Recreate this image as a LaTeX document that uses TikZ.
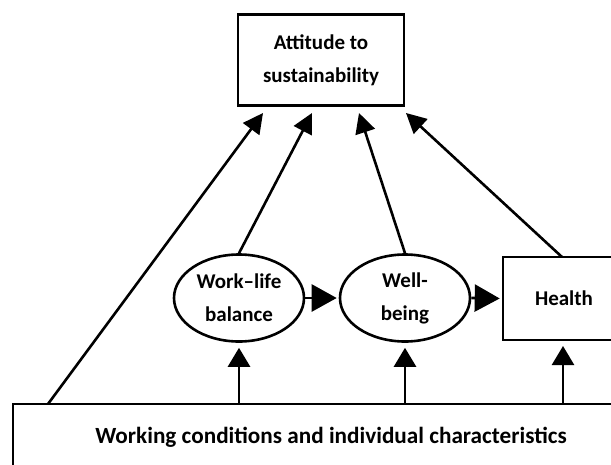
\documentclass[tikz,border=0pt]{standalone}
\usepackage{fontspec}
\setmainfont{Carlito}
\usetikzlibrary{arrows.meta,shapes.geometric,calc}
\begin{document}
\begin{tikzpicture}[x=1pt,y=-1pt,
  every node/.style={font=\fontsize{21}{33}\selectfont\bfseries, align=center, line width=2.6pt, inner sep=0pt},
  boxn/.style={draw, rectangle},
  elln/.style={draw, ellipse, minimum width=130pt, minimum height=87pt},
  conn/.style={line width=2.6pt},
  diag/.style={conn, -{Triangle[length=20pt,width=20pt]}},
  vup/.style={conn, -{Triangle[length=19pt,width=22pt]}, shorten >=5pt},
  hor/.style={conn, -{Triangle[length=25pt,width=27pt]}, shorten >=2pt}]
\useasboundingbox (0,0) rectangle (611,464);
\clip (0,0) rectangle (611,464);
\node[boxn, minimum width=166pt, minimum height=91pt] (top) at (321,60) {Attitude to\\sustainability};
\node[elln] (wlb) at (239,298) {Work–life\\balance};
\node[elln] (wb) at (405,298) {Well-\\being};
\node[boxn, minimum width=134pt, minimum height=83pt] (health) at (570,298.5) {\hspace*{-12pt}Health};
\node[boxn, minimum width=636pt, minimum height=66pt, font=\fontsize{23.2}{27}\selectfont\bfseries] (wc) at (331,437) {Working conditions and individual characteristics};
\coordinate (t1) at (263,113);
\coordinate (t2) at (312,113);
\coordinate (t3) at (359,113);
\coordinate (t4) at (406,113);
\coordinate (s1) at (48,404);
\coordinate (s4) at (562,257);
\coordinate (b3) at (563,341);
\draw[diag] (s1) -- (t1);
\draw[diag] (wlb.north) -- (t2);
\draw[diag] (wb.north) -- (t3);
\draw[diag] (s4) -- (t4);
\draw[hor] (wlb.east) -- (wb.west);
\draw[hor] (wb.east) -- (health.west);
\draw[vup] (wc.north -| wlb.south) -- (wlb.south);
\draw[vup] (wc.north -| wb.south) -- (wb.south);
\draw[vup] (wc.north -| b3) -- (b3);
\end{tikzpicture}
\end{document}
